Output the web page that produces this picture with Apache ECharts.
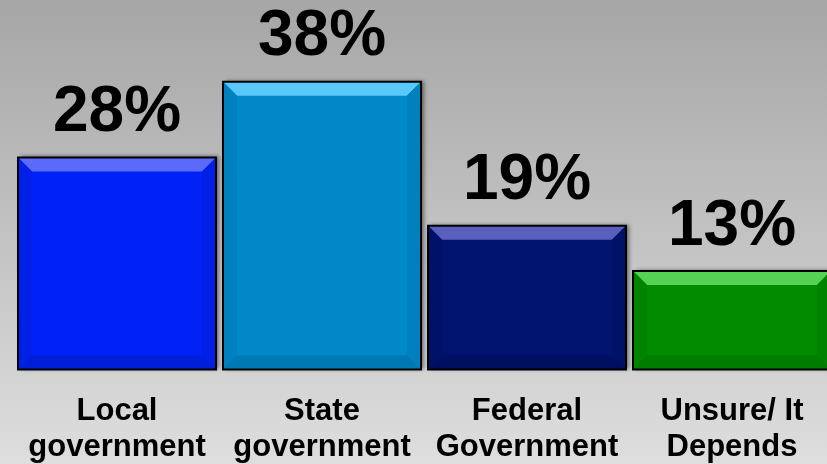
<!DOCTYPE html>
<html lang="en">
<head>
    <meta charset="UTF-8">
    <title>Level of government</title>
    <script src="https://cdn.jsdelivr.net/npm/echarts@6/dist/echarts.min.js"></script>
    <style>
        body, html {
            margin: 0;
            padding: 0;
            width: 100%;
            height: 100%;
            overflow: hidden;
        }
        #chart {
            width: 827px;
            height: 464px;
        }
    </style>
</head>
<body>
    <div id="chart"></div>
    <script>
        // data
        var categories = ['Local\ngovernment', 'State\ngovernment', 'Federal\nGovernment', 'Unsure/ It\nDepends'];
        var values = [28, 38, 19, 13];

        // bar colours: main face, top bevel, side bevel, bottom bevel
        var palette = [
            { main: '#0022f6', top: '#5c6afc', side: '#0020e6', bottom: '#001ed8' },
            { main: '#0088c9', top: '#5ac8fa', side: '#0080bf', bottom: '#0078b3' },
            { main: '#00136f', top: '#5a5fbf', side: '#001168', bottom: '#000f5f' },
            { main: '#008b00', top: '#55d155', side: '#008400', bottom: '#007c00' }
        ];

        function renderBar(params, api) {
            var i = params.dataIndex;
            var base = api.coord([api.value(0), 0]);
            var top = api.coord([api.value(0), api.value(1)]);
            var w = api.size([1, 0])[0] * 0.966;
            var x = base[0] - w / 2;
            var y = top[1];
            var h = base[1] - top[1];
            var b = 14;
            var p = palette[i];
            return {
                type: 'group',
                children: [
                    {
                        type: 'rect',
                        shape: { x: x, y: y, width: w, height: h },
                        style: {
                            fill: p.main,
                            shadowBlur: 4,
                            shadowOffsetX: 3,
                            shadowOffsetY: -1,
                            shadowColor: 'rgba(0,0,0,0.45)'
                        }
                    },
                    {
                        type: 'polygon',
                        shape: { points: [[x, y], [x + w, y], [x + w - b, y + b], [x + b, y + b]] },
                        style: { fill: p.top }
                    },
                    {
                        type: 'polygon',
                        shape: { points: [[x, y], [x + b, y + b], [x + b, y + h - b], [x, y + h]] },
                        style: { fill: p.side }
                    },
                    {
                        type: 'polygon',
                        shape: { points: [[x + w, y], [x + w - b, y + b], [x + w - b, y + h - b], [x + w, y + h]] },
                        style: { fill: p.side }
                    },
                    {
                        type: 'polygon',
                        shape: { points: [[x, y + h], [x + b, y + h - b], [x + w - b, y + h - b], [x + w, y + h]] },
                        style: { fill: p.bottom }
                    },
                    {
                        type: 'rect',
                        shape: { x: x, y: y, width: w, height: h },
                        style: { fill: null, stroke: '#000', lineWidth: 2 }
                    },
                    {
                        type: 'text',
                        x: base[0],
                        y: y - 44,
                        style: {
                            text: api.value(1) + '%',
                            font: 'bold 64px "Liberation Sans", Arial, sans-serif',
                            fill: '#000',
                            align: 'center',
                            verticalAlign: 'middle'
                        }
                    }
                ]
            };
        }

        var option = {
            backgroundColor: {
                type: 'linear', x: 0, y: 0, x2: 0, y2: 1,
                colorStops: [
                    { offset: 0, color: '#a6a6a6' },
                    { offset: 1, color: '#dedede' }
                ]
            },
            animation: false,
            grid: {
                left: 14.5, top: 0, width: 820, bottom: 94.5,
                containLabel: false,
                outerBoundsMode: 'none'
            },
            xAxis: {
                type: 'category',
                data: categories,
                axisLine: { show: false },
                axisTick: { show: false },
                axisLabel: {
                    interval: 0,
                    margin: 24,
                    color: '#000',
                    fontFamily: '"Liberation Sans", Arial, sans-serif',
                    fontWeight: 'bold',
                    fontSize: 31,
                    lineHeight: 36
                }
            },
            yAxis: {
                type: 'value',
                min: 0,
                max: 48.8,
                show: false,
                splitLine: { show: false }
            },
            series: [{
                type: 'custom',
                renderItem: renderBar,
                encode: { x: 0, y: 1 },
                data: values.map(function (v, i) { return [i, v]; })
            }]
        };

        var chart = echarts.init(document.getElementById('chart'));
        chart.setOption(option);
    </script>
</body>
</html>
